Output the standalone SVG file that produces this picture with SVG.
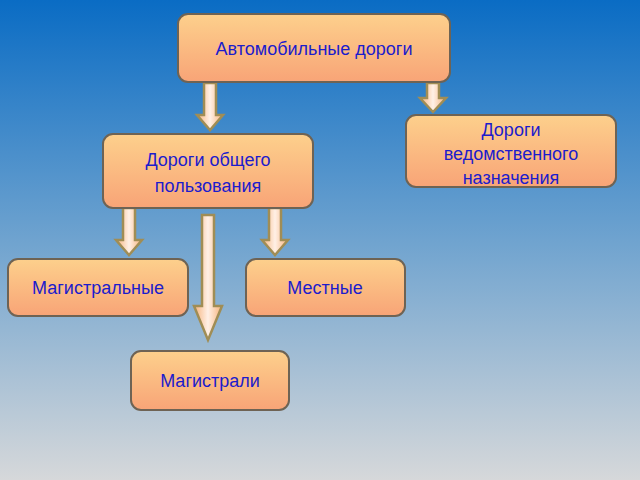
<svg xmlns="http://www.w3.org/2000/svg" width="640" height="480" viewBox="0 0 640 480">
<defs>
<linearGradient id="bg" x1="0" y1="0" x2="0" y2="1"><stop offset="0" stop-color="#0a6cc4"/><stop offset="0.5" stop-color="#6fa3cf"/><stop offset="1" stop-color="#d6d8da"/></linearGradient>
<linearGradient id="nd" x1="0" y1="0" x2="0" y2="1"><stop offset="0" stop-color="#fdd08c"/><stop offset="1" stop-color="#f8a477"/></linearGradient>
<linearGradient id="ar" x1="0" y1="0" x2="1" y2="0"><stop offset="0" stop-color="#f6b27a"/><stop offset="0.5" stop-color="#fff0e6"/><stop offset="1" stop-color="#f6b27a"/></linearGradient>
<style>
.n{fill:url(#nd);stroke:#6e6354;stroke-width:2}
.t{font-family:"Liberation Sans",Arial,sans-serif;font-size:18px;fill:#1c1ccc;text-anchor:middle}
.a{fill:url(#ar);stroke:#a08d55;stroke-width:2.5}
</style>
</defs>
<rect width="640" height="480" fill="url(#bg)"/>
<g id="connectors">
<path class="a" d="M204,83H216V115H223L210,130L197,115H204Z"/>
<path class="a" d="M427,83H439V98H446L433,112L420,98H427Z"/>
<path class="a" d="M123,208H135V240H142L129,255L116,240H123Z"/>
<path class="a" d="M269,208H281V240H288L275,255L262,240H269Z"/>
<path class="a" d="M202,215H214V306H222L208,340L194,306H202Z"/>
</g>
<g id="n1"><rect class="n" x="178" y="14" width="272" height="68" rx="10"/><text class="t" x="314" y="55">Автомобильные дороги</text></g>
<g id="n2"><rect class="n" x="406" y="115" width="210" height="72" rx="10"/><text class="t" x="511" y="136">Дороги</text><text class="t" x="511" y="160">ведомственного</text><text class="t" x="511" y="184">назначения</text></g>
<g id="n3"><rect class="n" x="103" y="134" width="210" height="74" rx="10"/><text class="t" x="208" y="166">Дороги общего</text><text class="t" x="208" y="192">пользования</text></g>
<g id="n4"><rect class="n" x="8" y="259" width="180" height="57" rx="10"/><text class="t" x="98" y="294">Магистральные</text></g>
<g id="n5"><rect class="n" x="246" y="259" width="159" height="57" rx="10"/><text class="t" x="325" y="294">Местные</text></g>
<g id="n6"><rect class="n" x="131" y="351" width="158" height="59" rx="10"/><text class="t" x="210" y="387">Магистрали</text></g>
</svg>
